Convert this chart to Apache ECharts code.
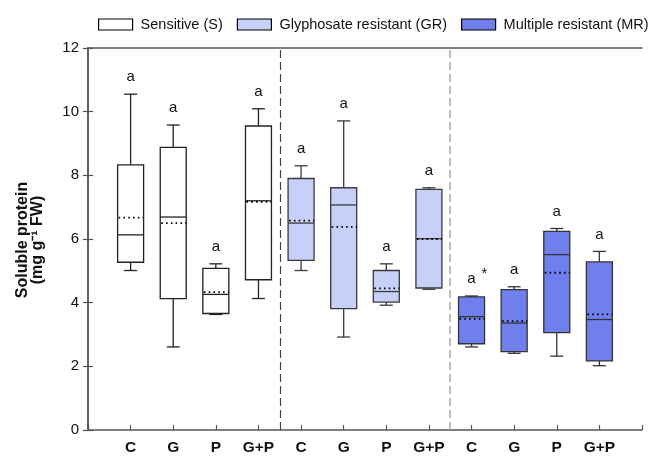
<!DOCTYPE html>
<html>
<head>
<meta charset="utf-8">
<script src="https://cdn.jsdelivr.net/npm/echarts@6/dist/echarts.min.js"></script>
<style>
html,body{margin:0;padding:0;background:#fff;}
#chart{width:655px;height:456px;}
</style>
</head>
<body>
<div id="chart"></div>
<script>
// ---- data ----
const categories = ['C', 'G', 'P', 'G+P'];
const groups = ['Sensitive (S)', 'Glyphosate resistant (GR)', 'Multiple resistant (MR)'];
// 12 boxes: S(C,G,P,G+P), GR(C,G,P,G+P), MR(C,G,P,G+P)
const whiskerLow  = [5.01, 2.61, 3.63, 4.13,  5.01, 2.92, 3.92, 4.42,  2.61, 2.41, 2.32, 2.02];
const q1          = [5.27, 4.13, 3.66, 4.72,  5.33, 3.81, 4.02, 4.46,  2.71, 2.46, 3.06, 2.17];
const median      = [6.13, 6.69, 4.26, 7.20,  6.50, 7.07, 4.35, 6.01,  3.56, 3.36, 5.51, 3.47];
const q3          = [8.33, 8.88, 5.08, 9.55,  7.90, 7.61, 5.01, 7.56,  4.18, 4.41, 6.24, 5.28];
const whiskerHigh = [10.55, 9.58, 5.22, 10.09, 8.30, 9.71, 5.22, 7.61,  4.21, 4.50, 6.33, 5.61];
const mean        = [6.67, 6.50, 4.33, 7.17,  6.58, 6.38, 4.45, 6.00,  3.49, 3.42, 4.94, 3.63];
const letters     = ['a','a','a','a', 'a','a','a','a', 'a','a','a','a'];
const marks       = ['','','','', '','','','', '*','','',''];
const yTicks = [0, 2, 4, 6, 8, 10, 12];

const fills = ['#ffffff', '#c6d0f8', '#6f80ec'];
const strokes = ['#222222', '#3a3a3a', '#333333'];

function renderBox(params, api) {
  const x = api.value(0);
  const idx = api.value(7);
  const g = Math.floor(idx / 4);
  const pLo = api.coord([x, api.value(1)]);
  const pQ1 = api.coord([x, api.value(2)]);
  const pMed = api.coord([x, api.value(3)]);
  const pQ3 = api.coord([x, api.value(4)]);
  const pHi = api.coord([x, api.value(5)]);
  const pMean = api.coord([x, api.value(6)]);
  const w = api.size([1, 0])[0] * 0.61;
  const cx = pLo[0];
  const sc = strokes[g];
  const ls = {stroke: sc, lineWidth: 1.3};
  const children = [
    {type: 'line', shape: {x1: cx, y1: pHi[1], x2: cx, y2: pQ3[1]}, style: ls},
    {type: 'line', shape: {x1: cx - w / 4, y1: pHi[1], x2: cx + w / 4, y2: pHi[1]}, style: ls},
    {type: 'line', shape: {x1: cx, y1: pLo[1], x2: cx, y2: pQ1[1]}, style: ls},
    {type: 'line', shape: {x1: cx - w / 4, y1: pLo[1], x2: cx + w / 4, y2: pLo[1]}, style: ls},
    {type: 'rect', shape: {x: cx - w / 2, y: pQ3[1], width: w, height: pQ1[1] - pQ3[1]},
      style: {fill: fills[g], stroke: sc, lineWidth: 1.3}},
    {type: 'line', shape: {x1: cx - w / 2, y1: pMed[1], x2: cx + w / 2, y2: pMed[1]}, style: ls},
    {type: 'line', shape: {x1: cx - w / 2 + 1, y1: pMean[1], x2: cx + w / 2, y2: pMean[1]},
      style: {stroke: '#000', lineWidth: 1.8, lineDash: [1.6, 3.2]}},
    {type: 'text', x: cx, y: pHi[1] - 17,
      style: {text: letters[idx], x: 0, y: 0, align: 'center', verticalAlign: 'middle',
        font: '15px "Liberation Sans", Arial, sans-serif', fill: '#111'}}
  ];
  if (marks[idx]) {
    children.push({type: 'text', x: cx + 13, y: pHi[1] - 22,
      style: {text: marks[idx], x: 0, y: 0, align: 'center', verticalAlign: 'middle',
        font: '15px "Liberation Sans", Arial, sans-serif', fill: '#111'}});
  }
  return {type: 'group', children: children};
}

const series = groups.map(function (name, g) {
  const data = categories.map(function (c, i) {
    const k = g * 4 + i;
    return [k + 1, whiskerLow[k], q1[k], median[k], q3[k], whiskerHigh[k], mean[k], k];
  });
  const s = {
    name: name,
    type: 'custom',
    renderItem: renderBox,
    itemStyle: {color: fills[g], borderColor: '#000', borderWidth: 1},
    encode: {x: 0, y: [1, 2, 3, 4, 5]},
    data: data,
    silent: true
  };
  if (g === 0) {
    s.markLine = {
      silent: true, symbol: 'none', label: {show: false},
      data: [
        {xAxis: 4.5, lineStyle: {color: '#444', type: [8, 4], width: 1.2}},
        {xAxis: 8.5, lineStyle: {color: '#a8a8a8', type: [8, 4], width: 1.5}}
      ]
    };
  }
  return s;
});

const chart = echarts.init(document.getElementById('chart'), null, {renderer: 'canvas'});
chart.setOption({
  animation: false,
  backgroundColor: '#fff',
  grid: {left: 88, right: 13, top: 48, bottom: 24},
  legend: {
    left: 98, top: 17, width: 580, padding: 0,
    itemWidth: 34, itemHeight: 11, itemGap: 14,
    icon: 'rect',
    textStyle: {fontSize: 14.5, color: '#111', fontFamily: '"Liberation Sans", Arial, sans-serif', padding: [0, 0, 0, 3]},
    data: groups.map(function (n, g) {
      return {name: n, icon: 'rect', itemStyle: {color: fills[g], borderColor: '#000', borderWidth: 1.2}};
    })
  },
  xAxis: [{
    type: 'value', min: 0, max: 13, interval: 1,
    axisLine: {lineStyle: {color: '#555', width: 1.5}},
    axisTick: {inside: true, length: 5, lineStyle: {color: '#555', width: 1.2}},
    splitLine: {show: false},
    axisLabel: {
      margin: 10, color: '#111', fontWeight: 'bold', fontSize: 15.5,
      fontFamily: '"Liberation Sans", Arial, sans-serif',
      formatter: function (v) { return (v >= 1 && v <= 12) ? categories[(v - 1) % 4] : ''; }
    }
  }, {
    type: 'value', position: 'top', min: 0, max: 13,
    axisLine: {show: true, onZero: false, lineStyle: {color: '#555', width: 1.5}},
    axisTick: {show: false}, axisLabel: {show: false}, splitLine: {show: false}
  }],
  yAxis: [{
    type: 'value', min: yTicks[0], max: yTicks[yTicks.length - 1], interval: 2,
    axisLine: {show: true, lineStyle: {color: '#555', width: 1.5}},
    axisTick: {show: true, inside: true, length: 5, lineStyle: {color: '#555', width: 1.2}},
    splitLine: {show: false},
    axisLabel: {margin: 9, color: '#111', fontSize: 15, fontFamily: '"Liberation Sans", Arial, sans-serif'}
  }, {
    type: 'value', position: 'right', min: yTicks[0], max: yTicks[yTicks.length - 1], interval: 2,
    axisLine: {show: true, lineStyle: {color: '#555', width: 1.5}},
    axisTick: {show: true, inside: true, length: 5, lineStyle: {color: '#555', width: 1.2}},
    splitLine: {show: false}, axisLabel: {show: false}
  }],
  graphic: [{
    type: 'text', x: 30, y: 240, rotation: Math.PI / 2,
    style: {
      text: 'Soluble protein\n(mg g\u207B\u00B9 FW)',
      align: 'center', verticalAlign: 'middle', lineHeight: 15.5,
      font: 'bold 16px "Liberation Sans", Arial, sans-serif', fill: '#111'
    }
  }],
  series: series
});
</script>
</body>
</html>
